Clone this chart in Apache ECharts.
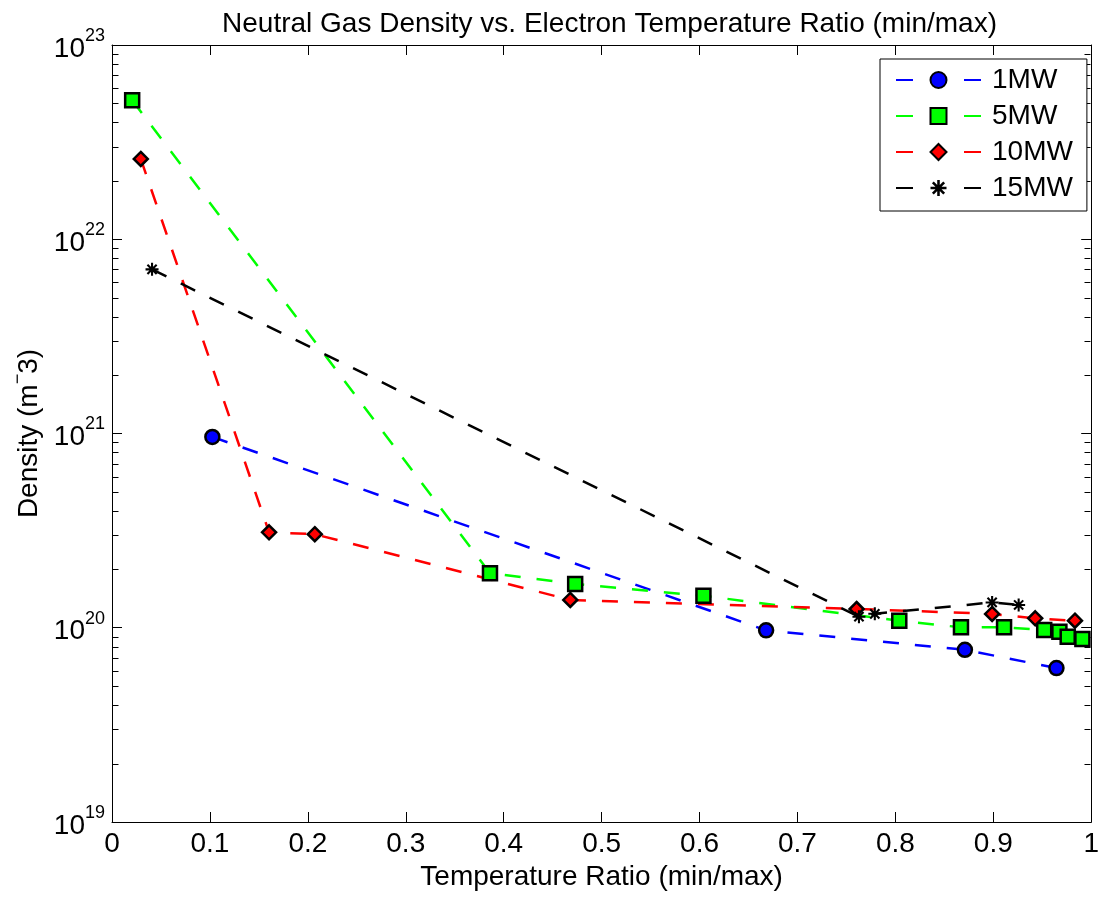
<!DOCTYPE html>
<html>
<head>
<meta charset="utf-8">
<script src="https://cdn.jsdelivr.net/npm/echarts@6/dist/echarts.min.js"></script>
<style>
html,body{margin:0;padding:0;background:#fff;}
#chart{width:1102px;height:899px;}
</style>
</head>
<body>
<div id="chart"></div>
<script>
// ---- data ----
const seriesNames = ['1MW', '5MW', '10MW', '15MW'];

const x1MW = [0.1025, 0.668, 0.871, 0.9645];
const y1MW = [9.6e20, 9.7e19, 7.7e19, 6.2e19];

const x5MW = [0.0206, 0.386, 0.473, 0.604, 0.804, 0.867, 0.911, 0.952, 0.9675, 0.976, 0.991];
const y5MW = [5.2e22, 1.91e20, 1.68e20, 1.46e20, 1.087e20, 1.005e20, 1.005e20, 9.74e19, 9.55e19, 9.0e19, 8.75e19];

const x10MW = [0.0294, 0.1604, 0.2071, 0.468, 0.7604, 0.8988, 0.9428, 0.9834];
const y10MW = [2.59e22, 3.10e20, 3.03e20, 1.39e20, 1.249e20, 1.178e20, 1.118e20, 1.087e20];

const x15MW = [0.0409, 0.7628, 0.779, 0.8988, 0.9259];
const y15MW = [7.0e21, 1.14e20, 1.18e20, 1.35e20, 1.31e20];

// axis ticks
const yDecades = [19, 20, 21, 22];
const yMinorMultipliers = [2, 3, 4, 5, 6, 7, 8, 9];

const FONT = 'Liberation Sans, Arial, Helvetica, sans-serif';

function zip(xs, ys) { return xs.map((x, i) => [x, ys[i]]); }

const minorVals = [];
yDecades.forEach(d => yMinorMultipliers.forEach(m => minorVals.push([0, m * Math.pow(10, d)])));

const asterisk = 'path://M-5,-0.8L5,-0.8L5,0.8L-5,0.8Z M-0.8,-5L0.8,-5L0.8,5L-0.8,5Z M2.97,4.11L-4.11,-2.97L-2.97,-4.11L4.11,2.97Z M-2.97,4.11L-4.11,2.97L2.97,-4.11L4.11,-2.97Z';

const dash = [16, 16];

function lineSeries(name, data, color, symbol, size, border) {
  return {
    name: name, type: 'line', data: data, color: color,
    symbol: symbol, symbolSize: size, showAllSymbol: true,
    lineStyle: { color: color, width: 2.5, type: dash },
    itemStyle: { color: color, borderColor: '#000', borderWidth: border, opacity: 1 },
    emphasis: { disabled: true }
  };
}

const chart = echarts.init(document.getElementById('chart'), null, { renderer: 'canvas' });

const yLabel = {
  show: true, margin: 7,
  formatter: v => '{b|10}{s|' + Math.round(Math.log10(v)) + '}',
  rich: {
    b: { fontSize: 28, fontFamily: FONT, color: '#000', lineHeight: 36, verticalAlign: 'bottom' },
    s: { fontSize: 18, fontFamily: FONT, color: '#000', lineHeight: 18, verticalAlign: 'top' }
  }
};

chart.setOption({
  animation: false,
  backgroundColor: '#fff',
  title: {
    text: 'Neutral Gas Density vs. Electron Temperature Ratio (min/max)',
    left: 604.5, textAlign: 'center', top: 5,
    textStyle: { fontSize: 28, fontWeight: 'normal', fontFamily: FONT, color: '#000' }
  },
  grid: { left: 112, top: 45, right: 5, bottom: 77, containLabel: false },
  legend: {
    data: seriesNames,
    orient: 'vertical', left: 880, top: 59,
    backgroundColor: '#fff', borderColor: '#000', borderWidth: 1, borderRadius: 0,
    padding: [7, 14, 9, 15],
    itemWidth: 85, itemHeight: 20, itemGap: 8,
    lineStyle: { type: [17, 51] },
    textStyle: { fontSize: 28, fontFamily: FONT, color: '#000', lineHeight: 28, padding: [0, 0, 0, 6] },
    selectedMode: false
  },
  xAxis: [{
    type: 'value', min: 0, max: 1, interval: 0.1, position: 'bottom',
    name: 'Temperature Ratio (min/max)', nameLocation: 'middle', nameGap: 40,
    nameTextStyle: { fontSize: 28, fontFamily: FONT, color: '#000' },
    axisLine: { show: true, onZero: false, lineStyle: { color: '#000', width: 1 } },
    axisTick: { show: true, inside: true, length: 10, lineStyle: { color: '#000' } },
    axisLabel: { fontSize: 28, fontFamily: FONT, color: '#000', margin: 8 },
    splitLine: { show: false }
  }, {
    type: 'value', min: 0, max: 1, interval: 0.1, position: 'top',
    axisLine: { show: true, onZero: false, lineStyle: { color: '#000', width: 1 } },
    axisTick: { show: true, inside: true, length: 10, lineStyle: { color: '#000' } },
    axisLabel: { show: false },
    splitLine: { show: false }
  }],
  yAxis: [{
    type: 'log', logBase: 10, min: 1e19, max: 1e23, splitNumber: 4, position: 'left',
    name: '{a|Density (m}{s|\u2212}{a|3)}', nameLocation: 'middle', nameGap: 68, nameRotate: 90,
    nameTextStyle: {
      fontSize: 28, fontFamily: FONT, color: '#000',
      rich: {
        a: { fontSize: 28, fontFamily: FONT, color: '#000', lineHeight: 34, verticalAlign: 'bottom' },
        s: { fontSize: 18, fontFamily: FONT, color: '#000', lineHeight: 18, verticalAlign: 'top' }
      }
    },
    axisLine: { show: true, onZero: false, lineStyle: { color: '#000', width: 1 } },
    axisTick: { show: true, inside: true, length: 10, lineStyle: { color: '#000' } },
    axisLabel: yLabel,
    splitLine: { show: false }, minorTick: { show: false }
  }, {
    type: 'log', logBase: 10, min: 1e19, max: 1e23, splitNumber: 4, position: 'right',
    axisLine: { show: true, onZero: false, lineStyle: { color: '#000', width: 1 } },
    axisTick: { show: true, inside: true, length: 10, lineStyle: { color: '#000' } },
    axisLabel: { show: false },
    splitLine: { show: false }
  }],
  series: [
    {
      type: 'custom', name: 'minorTicks', xAxisIndex: 0, yAxisIndex: 0, silent: true, z: 1,
      data: minorVals, clip: false,
      renderItem: function (params, api) {
        const cs = params.coordSys;
        const y = Math.round(api.coord([0, api.value(1)])[1]) + 0.5;
        const xl = Math.round(cs.x) + 0.5, xr = Math.round(cs.x + cs.width) - 0.5;
        return {
          type: 'group', children: [
            { type: 'line', shape: { x1: xl, y1: y, x2: xl + 6, y2: y }, style: { stroke: '#000', lineWidth: 1 } },
            { type: 'line', shape: { x1: xr, y1: y, x2: xr - 6, y2: y }, style: { stroke: '#000', lineWidth: 1 } }
          ]
        };
      }
    },
    lineSeries('1MW', zip(x1MW, y1MW), '#0000ff', 'circle', 14, 2.5),
    lineSeries('5MW', zip(x5MW, y5MW), '#00ff00', 'rect', 14, 2.5),
    lineSeries('10MW', zip(x10MW, y10MW), '#ff0000', 'diamond', 14, 2.5),
    lineSeries('15MW', zip(x15MW, y15MW), '#000000', asterisk, 13, 0)
  ]
});
</script>
</body>
</html>
